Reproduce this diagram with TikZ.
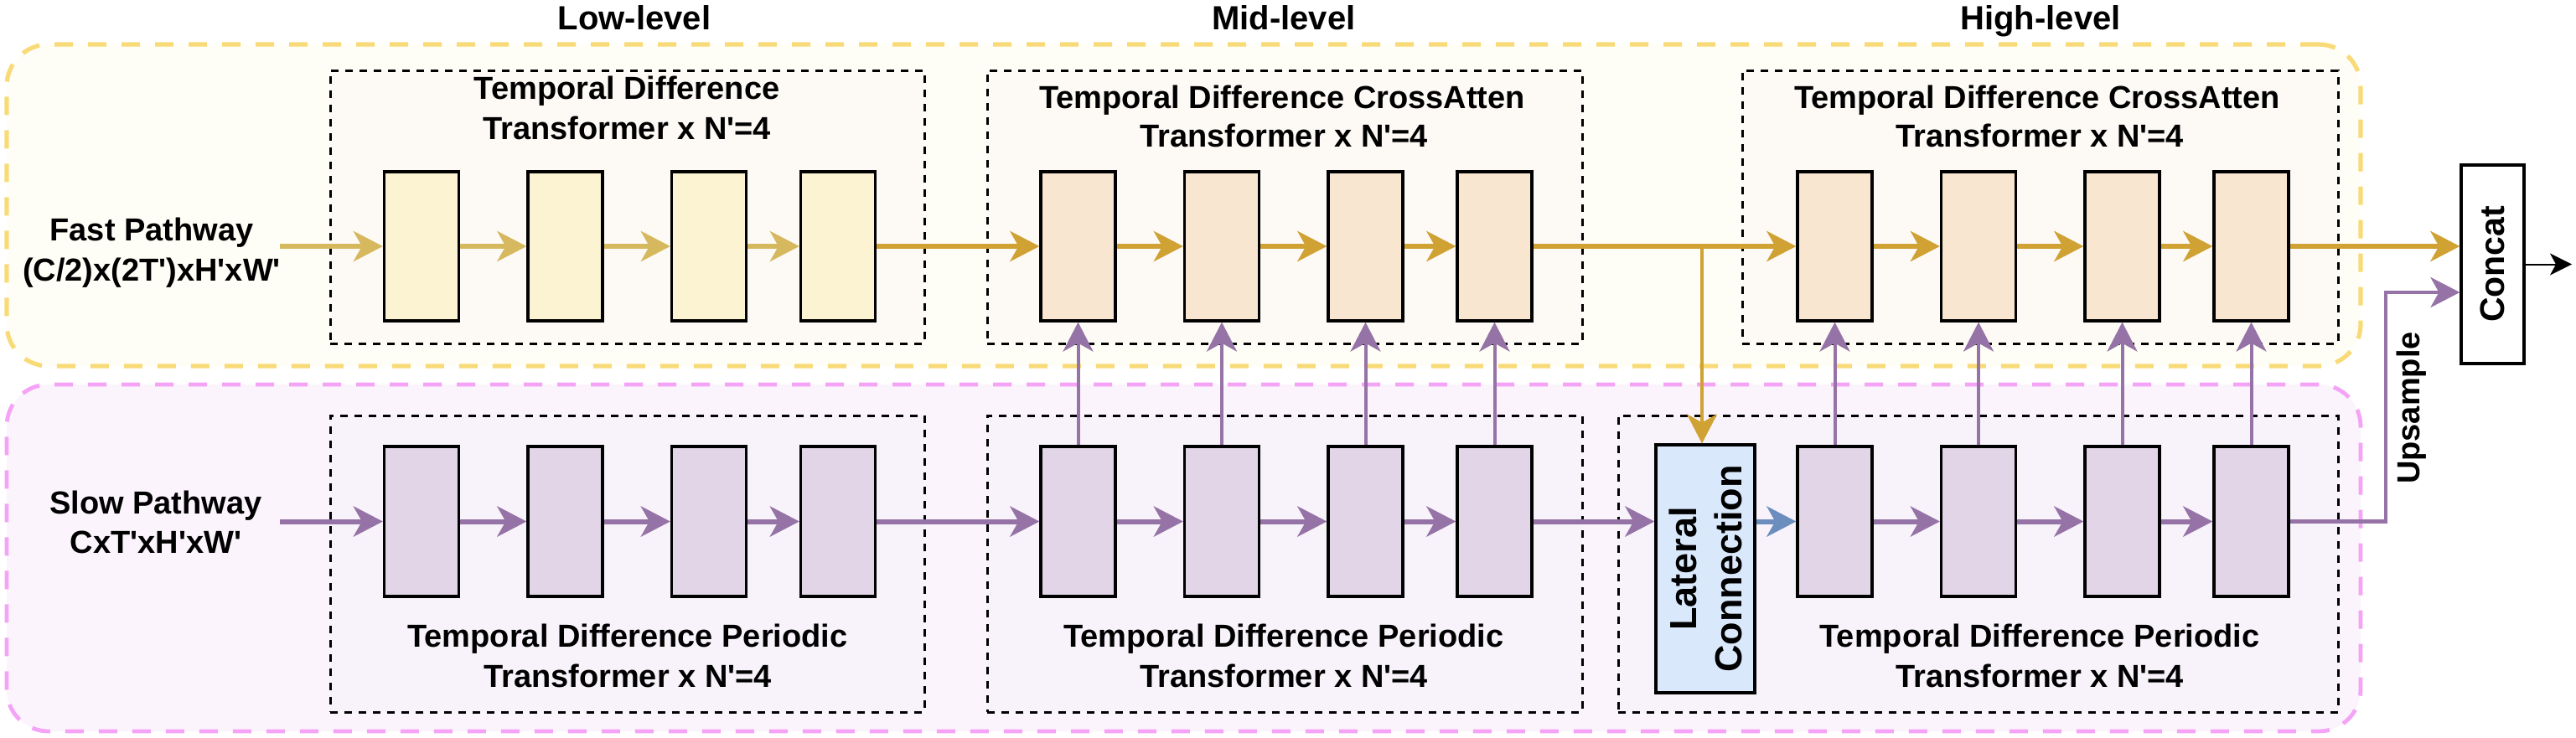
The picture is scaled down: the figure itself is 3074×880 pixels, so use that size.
\documentclass[tikz,border=0pt]{standalone}
\usepackage{fontspec}
\setmainfont{Liberation Sans}
\usetikzlibrary{arrows.meta}
\newcommand{\sqt}{\textquotesingle}
\definecolor{yline}{HTML}{F8DB78}
\definecolor{yfill}{HTML}{FFFEF6}
\definecolor{pline}{HTML}{F4A3F6}
\definecolor{pfill}{HTML}{FBF4FC}
\definecolor{topin}{HTML}{FDFAF6}
\definecolor{botin}{HTML}{F8F3FA}
\definecolor{lowfill}{HTML}{FCF3D3}
\definecolor{hifill}{HTML}{F9E6D0}
\definecolor{slowfill}{HTML}{E1D5E7}
\definecolor{latfill}{HTML}{DAE8FC}
\definecolor{goldL}{HTML}{D6B95F}
\definecolor{goldD}{HTML}{D0A133}
\definecolor{purp}{HTML}{9673A6}
\definecolor{bluA}{HTML}{6C8EBF}
\begin{document}
\begin{tikzpicture}[x=0.5pt,y=-0.5pt,
  outerY/.style={draw=yline, fill=yfill, line width=2.6pt, dash pattern=on 11pt off 9pt, rounded corners=25pt, inner sep=0pt},
  outerP/.style={draw=pline, fill=pfill, line width=2.4pt, dash pattern=on 11pt off 9pt, rounded corners=25pt, inner sep=0pt},
  stagebox/.style={draw=black, line width=1.5pt, dash pattern=on 4.5pt off 4pt, inner sep=0pt},
  blk/.style={draw=black, line width=1.6pt, minimum width=44.5pt, inner sep=0pt},
  lbk/.style={blk, minimum height=89pt, fill=lowfill},
  hbk/.style={blk, minimum height=89pt, fill=hifill},
  sbk/.style={blk, minimum height=89.5pt, fill=slowfill},
  lab/.style={font=\fontsize{19}{23}\selectfont\bfseries, anchor=base, inner sep=0pt},
  ttl/.style={font=\fontsize{20}{24}\selectfont\bfseries, anchor=base, inner sep=0pt},
  ah/.style={-{Stealth[length=17.5pt,width=18pt,inset=5pt]}},
  garL/.style={ah, draw=goldL, line width=3pt},
  garD/.style={ah, draw=goldD, line width=3pt},
  gvert/.style={ah, draw=goldD, line width=2.2pt},
  par/.style={ah, draw=purp, line width=3pt},
  pup/.style={ah, draw=purp, line width=2pt},
  bar/.style={ah, draw=bluA, line width=3pt}
]
\useasboundingbox (0,0) rectangle (3074,880);

% outer regions
\node[outerY, minimum width=1404.5pt, minimum height=192pt] (fastbg) at (1412.5,245) {};
\node[outerP, minimum width=1404.5pt, minimum height=207pt] (slowbg) at (1412.5,666) {};

% stage boxes
\node[stagebox, fill=topin, minimum width=354.5pt, minimum height=163pt] (lowtop) at (748.5,247) {};
\node[stagebox, fill=topin, minimum width=355pt, minimum height=163pt] (midtop) at (1533,247) {};
\node[stagebox, fill=topin, minimum width=355.5pt, minimum height=163pt] (hitop) at (2434.5,247) {};
\node[stagebox, fill=botin, minimum width=354.5pt, minimum height=177pt] (lowbot) at (748.5,673) {};
\node[stagebox, fill=botin, minimum width=355pt, minimum height=177pt] (midbot) at (1533,673) {};
\node[stagebox, fill=botin, minimum width=429.5pt, minimum height=177pt] (hibot) at (2360.5,673) {};

% blocks
\foreach \i/\dx in {1/0,2/171.5,3/343,4/497} {
  \node[lbk] (lb\i) at ({503+\dx},294) {};
  \node[hbk] (mb\i) at ({1286.5+\dx},294) {};
  \node[hbk] (hb\i) at ({2189.5+\dx},294) {};
  \node[sbk] (ls\i) at ({503+\dx},622.5) {};
  \node[sbk] (ms\i) at ({1286.5+\dx},622.5) {};
  \node[sbk] (hs\i) at ({2189.5+\dx},622.5) {};
}

% lateral and concat
\node[draw=black, line width=1.6pt, fill=latfill, minimum width=59pt, minimum height=148pt, inner sep=0pt] (lat) at (2035,679) {};
\node[rotate=90, align=center, font=\fontsize{22.5}{27}\selectfont\bfseries, inner sep=0pt] (lattxt) at (lat.center) {Lateral\\Connection};
\node[draw=black, line width=1.6pt, fill=white, minimum width=37.5pt, minimum height=118.5pt, inner sep=0pt] (concat) at (2974.5,315.5) {};
\node[rotate=90, font=\fontsize{20.5}{24}\selectfont\bfseries, inner sep=0pt] (concattxt) at (concat.center) {Concat};

% titles
\node[ttl] (tlow) at (757,35) {Low-level};
\node[ttl] (tmid) at (1532,35) {Mid-level};
\node[ttl] (thigh) at (2435,35) {High-level};

% stage labels
\node[lab] (lt1) at (748,118) {Temporal Difference};
\node[lab] (lt2) at (748,166) {Transformer x N\sqt=4};
\node[lab] (mt1) at (1530,129) {Temporal Difference CrossAtten};
\node[lab] (mt2) at (1532,175) {Transformer x N\sqt=4};
\node[lab] (ht1) at (2431,129) {Temporal Difference CrossAtten};
\node[lab] (ht2) at (2434,175) {Transformer x N\sqt=4};
\node[lab] (lbt1) at (749,772) {Temporal Difference Periodic};
\node[lab] (lbt2) at (749,820) {Transformer x N\sqt=4};
\node[lab] (mbt1) at (1532,772) {Temporal Difference Periodic};
\node[lab] (mbt2) at (1532,820) {Transformer x N\sqt=4};
\node[lab] (hbt1) at (2434,772) {Temporal Difference Periodic};
\node[lab] (hbt2) at (2434,820) {Transformer x N\sqt=4};

% pathway labels
\node[lab] (fp1) at (181,287) {Fast Pathway};
\node[lab] (fp2) at (181,335) {(C/2)x(2T\sqt)xH\sqt xW\sqt};
\node[lab] (sp1) at (186,613) {Slow Pathway};
\node[lab] (sp2) at (186,660) {CxT\sqt xH\sqt xW\sqt};

\node[rotate=90, font=\fontsize{19}{23}\selectfont\bfseries, inner sep=0pt] (upl) at (2878,487) {Upsample};

% coordinates
\coordinate (fin) at (334,294);
\coordinate (sin) at (334,622.5);
\coordinate (br) at (2031,294);
\coordinate (upc) at (2847,349);
\coordinate (outp) at (3069,315.5);

% fast pathway arrows
\draw[garL] (fin) -- (lb1.west);
\draw[garL] (lb1.east) -- (lb2.west);
\draw[garL] (lb2.east) -- (lb3.west);
\draw[garL] (lb3.east) -- (lb4.west);
\draw[garD] (lb4.east) -- (mb1.west);
\draw[garD] (mb1.east) -- (mb2.west);
\draw[garD] (mb2.east) -- (mb3.west);
\draw[garD] (mb3.east) -- (mb4.west);
\draw[garD] (mb4.east) -- (hb1.west);
\draw[garD] (hb1.east) -- (hb2.west);
\draw[garD] (hb2.east) -- (hb3.west);
\draw[garD] (hb3.east) -- (hb4.west);
\draw[garD] (hb4.east) -- (hb4.east -| concat.west);
\draw[gvert] (br) -- (br |- lat.north);

% slow pathway arrows
\draw[par] (sin) -- (ls1.west);
\draw[par] (ls1.east) -- (ls2.west);
\draw[par] (ls2.east) -- (ls3.west);
\draw[par] (ls3.east) -- (ls4.west);
\draw[par] (ls4.east) -- (ms1.west);
\draw[par] (ms1.east) -- (ms2.west);
\draw[par] (ms2.east) -- (ms3.west);
\draw[par] (ms3.east) -- (ms4.west);
\draw[par] (ms4.east) -- (lat.west |- ms4.east);
\draw[bar] (lat.east |- hs1.west) -- (hs1.west);
\draw[par] (hs1.east) -- (hs2.west);
\draw[par] (hs2.east) -- (hs3.west);
\draw[par] (hs3.east) -- (hs4.west);
\draw[ah, draw=purp, line width=2.3pt] (hs4.east) -| (upc) -- (upc -| concat.west);

% cross connections
\foreach \i in {1,2,3,4} {
  \draw[pup] (ms\i.north) -- (mb\i.south);
  \draw[pup] (hs\i.north) -- (hb\i.south);
}

% output
\draw[-{Stealth[length=13pt,width=13pt,inset=3.5pt]}, line width=1pt] (concat.east) -- (outp);
\end{tikzpicture}
\end{document}
